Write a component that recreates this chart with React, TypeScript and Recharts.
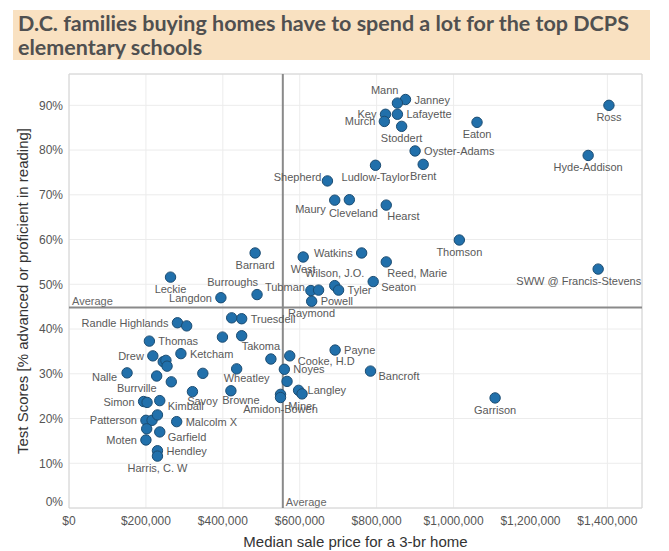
import React from "react"
import {
  CartesianGrid,
  ReferenceArea,
  ReferenceLine,
  Scatter,
  ScatterChart,
  XAxis,
  YAxis,
} from "recharts"

// schools (blank = point shown without a label)
const SCHOOLS = [
  "Janney", "Mann", "Key", "Lafayette", "Murch", "Stoddert", "Eaton", "Oyster-Adams",
  "Brent", "Ludlow-Taylor", "Shepherd", "Maury", "Cleveland", "Hearst", "Thomson", "Watkins",
  "West", "Barnard", "Reed, Marie", "Seaton", "Wilson, J.O.", "Tyler", "Tubman", "Raymond",
  "Powell", "Burroughs", "Langdon", "Leckie", "Randle Highlands", "", "Truesdell", "",
  "", "", "Thomas", "Drew", "Ketcham", "", "", "",
  "Nalle", "Burrville", "", "", "Wheatley", "Savoy", "Browne", "Takoma",
  "Cooke, H.D", "Payne", "Noyes", "", "Bancroft", "Langley", "Miner", "",
  "Amidon-Bowen", "Garrison", "Simon", "", "Kimball", "Patterson", "", "",
  "", "Malcolm X", "Garfield", "Moten", "Hendley", "Harris, C. W", "Ross", "Hyde-Addison",
  "SWW @ Francis-Stevens",
]

// median sale price of a 3-br home
const PRICES = [
  875000, 854000, 823000, 854000, 820000, 865000, 1061000, 900000,
  921000, 797000, 672000, 691000, 729000, 825000, 1015000, 761000,
  609000, 484000, 825000, 791000, 691000, 701000, 629000, 649000,
  631000, 489000, 395000, 264000, 282000, 306000, 449000, 423000,
  399000, 449000, 209000, 218000, 291000, 245000, 252000, 255000,
  151000, 228000, 266000, 348000, 436000, 321000, 421000, 525000,
  574000, 692000, 560000, 567000, 784000, 597000, 606000, 550000,
  550000, 1108000, 194000, 203000, 236000, 200000, 216000, 230000,
  202000, 280000, 236000, 200000, 230000, 230000, 1404000, 1350000,
  1376000,
]

// share advanced or proficient in reading
const SCORES = [
  0.913, 0.905, 0.88, 0.88, 0.864, 0.853, 0.862, 0.798,
  0.768, 0.766, 0.731, 0.688, 0.689, 0.677, 0.599, 0.57,
  0.561, 0.57, 0.55, 0.506, 0.497, 0.487, 0.486, 0.487,
  0.462, 0.477, 0.47, 0.516, 0.414, 0.407, 0.423, 0.425,
  0.382, 0.385, 0.373, 0.34, 0.345, 0.327, 0.33, 0.317,
  0.302, 0.295, 0.282, 0.301, 0.311, 0.26, 0.262, 0.333,
  0.34, 0.353, 0.31, 0.283, 0.306, 0.263, 0.255, 0.254,
  0.247, 0.246, 0.238, 0.236, 0.24, 0.196, 0.196, 0.208,
  0.177, 0.193, 0.17, 0.152, 0.128, 0.116, 0.9, 0.788,
  0.534,
]

// where the name sits relative to the mark (codes in PLACE below)
const LABEL_SIDE = [
  "r", "tl", "l", "r", "l", "b", "b", "r",
  "b", "b", "lu", "bL", "bC", "br", "b", "l",
  "b", "b", "br", "rb", "t", "r", "lu", "bb",
  "r", "tl", "l", "b", "l", "", "r", "",
  "", "", "r", "l", "r", "", "", "",
  "lb", "bl", "", "", "bR", "bR", "bR", "tw",
  "rb", "r", "r", "", "rb", "r", "b", "",
  "b", "b", "l", "", "rb", "l", "", "",
  "", "r", "rb", "l", "r", "b", "b", "b",
  "bw",
]

const X_TICKS = [0, 200000, 400000, 600000, 800000, 1000000, 1200000, 1400000]
const Y_TICKS = [0, 0.1, 0.2, 0.3, 0.4, 0.5, 0.6, 0.7, 0.8, 0.9]
const AVG_PRICE = 556000
const AVG_SCORE = 0.448

const data = SCHOOLS.map((name, i) => ({
  name,
  price: PRICES[i],
  score: SCORES[i],
  side: LABEL_SIDE[i],
}))

const FONT = "'Liberation Sans', Arial, sans-serif"
const X_MAX = 1490000
const Y_MAX = 0.97

// label offsets: [dx, dy, anchor]
const PLACE: Record<string, [number, number, string]> = {
  r: [9, 4, "start"],
  rb: [8, 9, "start"],
  l: [-9, 4, "end"],
  lu: [-6, 0, "end"],
  lb: [-10, 8, "end"],
  t: [0, -9, "middle"],
  tl: [1, -9, "end"],
  tw: [-10, -9, "middle"],
  b: [0, 16, "middle"],
  bC: [4, 17, "middle"],
  bb: [-7, 27, "middle"],
  bl: [0, 16, "end"],
  bL: [-9, 13, "end"],
  br: [1, 15, "start"],
  bR: [10, 13, "middle"],
  bw: [43, 16, "end"],
}

const Dot = (props: any) => (
  <circle cx={props.cx} cy={props.cy} r={5.2} fill="#2170ab" stroke="#1b4c72" strokeWidth={1} />
)

const NameLabel = (props: any) => {
  const { cx, cy, payload } = props
  const p = PLACE[payload.side]
  if (!payload.name || !p) return <g />
  return (
    <text x={cx + p[0]} y={cy + p[1]} textAnchor={p[2] as any} fontSize={11} fontFamily={FONT} fill="#595959">
      {payload.name}
    </text>
  )
}

const YTick = ({ x, y, payload }: any) => (
  <text x={x} y={payload.value === 0 ? y - 6 : y} dy="0.355em" textAnchor="end" fontSize={12} fontFamily={FONT} fill="#555">
    {Math.round(payload.value * 100) + "%"}
  </text>
)

const AvgLabelH = ({ viewBox }: any) => (
  <text x={viewBox.x + 3} y={viewBox.y - 3} fontSize={11} fontFamily={FONT} fill="#666">Average</text>
)

const AvgLabelV = ({ viewBox }: any) => (
  <text x={viewBox.x + 3} y={viewBox.y + viewBox.height - 2} fontSize={11} fontFamily={FONT} fill="#666">Average</text>
)

export default function App() {
  return (
    <div style={{ position: "relative", width: 661, height: 543 }}>
      <div
        style={{
          position: "absolute", left: 5, top: 2, width: 637, height: 50,
          background: "#f9e1c1", boxSizing: "border-box", padding: "1px 0 0 5px",
          fontFamily: "Lato, sans-serif", fontWeight: 700, fontSize: 21.5, lineHeight: "24px", color: "#505050",
        }}
      >
        D.C. families buying homes have to spend a lot for the top DCPS elementary schools
      </div>
      <div style={{ position: "absolute", left: 0, top: 0 }}>
        <ScatterChart width={661} height={543} margin={{ top: 66, right: 27, bottom: 23, left: 21 }}>
          <CartesianGrid stroke="#ececec" />
          <ReferenceArea x1={0} x2={X_MAX} y1={0} y2={Y_MAX} fill="none" stroke="#d4d4d4" />
          <XAxis
            type="number" dataKey="price" domain={[0, X_MAX]} ticks={X_TICKS} allowDataOverflow
            axisLine={false} tickLine={false} height={20}
            tick={{ fontSize: 12, fontFamily: FONT, fill: "#555" }}
            tickFormatter={(v: number) => "$" + v.toLocaleString("en-US")}
          />
          <YAxis
            type="number" dataKey="score" domain={[0, Y_MAX]} ticks={Y_TICKS} allowDataOverflow
            axisLine={false} tickLine={false} width={40} tickMargin={0} tick={<YTick />}
          />
          <ReferenceLine x={AVG_PRICE} stroke="#8a8a8a" strokeWidth={2} label={<AvgLabelV />} />
          <ReferenceLine y={AVG_SCORE} stroke="#8a8a8a" strokeWidth={2} label={<AvgLabelH />} />
          <Scatter data={data} shape={<Dot />} isAnimationActive={false} />
          <Scatter data={data} shape={<NameLabel />} isAnimationActive={false} />
        </ScatterChart>
      </div>
      <div
        style={{
          position: "absolute", left: 61, width: 573, top: 525, textAlign: "center",
          fontFamily: FONT, fontSize: 15, color: "#333",
        }}
      >
        Median sale price for a 3-br home
      </div>
      <div style={{ position: "absolute", left: 14, top: 283, width: 0, height: 0 }}>
        <div
          style={{
            position: "absolute", left: 0, top: 0, transform: "translate(-50%, -50%) rotate(-90deg)",
            whiteSpace: "nowrap", fontFamily: FONT, fontSize: 15, color: "#333",
          }}
        >
          Test Scores [% advanced or proficient in reading]
        </div>
      </div>
    </div>
  )
}
